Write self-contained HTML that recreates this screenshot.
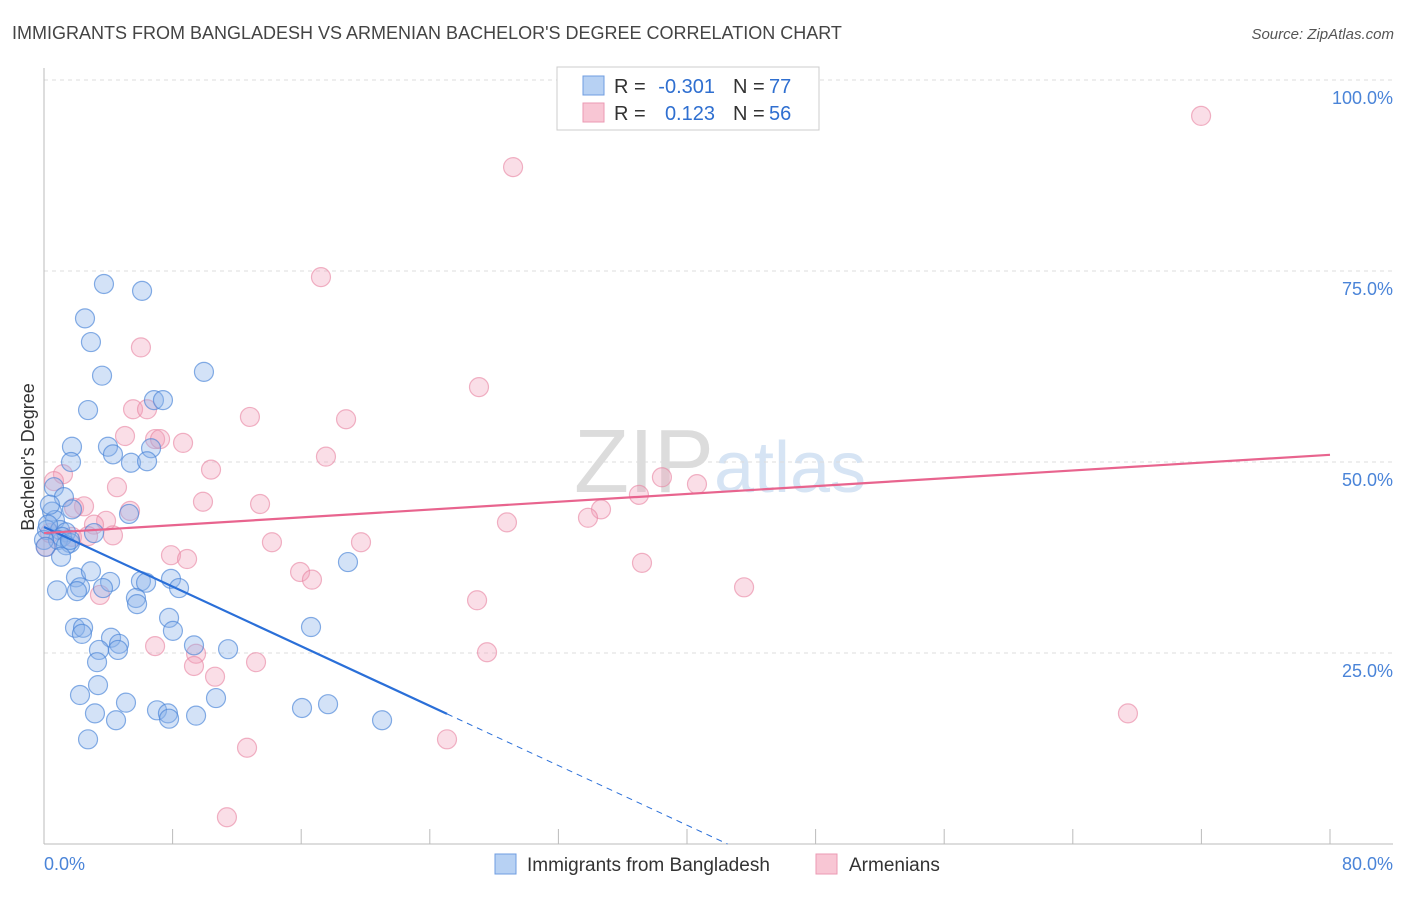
<!DOCTYPE html>
<html><head><meta charset="utf-8">
<style>
body{margin:0;background:#fff;font-family:"Liberation Sans",sans-serif;}
svg text{font-family:"Liberation Sans",sans-serif;}
</style></head>
<body>
<svg id="chart" width="1406" height="892" viewBox="0 0 1406 892" xmlns="http://www.w3.org/2000/svg">
<text x="12" y="39" font-size="18" fill="#444">IMMIGRANTS FROM BANGLADESH VS ARMENIAN BACHELOR'S DEGREE CORRELATION CHART</text>
<text x="1394" y="39" font-size="15" fill="#555" text-anchor="end" font-style="italic">Source: ZipAtlas.com</text>
<text x="720" y="492" font-size="90" fill="#e4e4e4" text-anchor="middle" font-family="Liberation Serif"><tspan fill="#dcdcdc">ZIP</tspan><tspan fill="#d6e4f4" font-family="Liberation Sans" font-size="72">atlas</tspan></text>
<text transform="translate(34,457) rotate(-90)" font-size="18" fill="#333" text-anchor="middle">Bachelor's Degree</text>
<g id="grid"></g><g id="axes"></g><g id="pts"></g><g id="trend"></g>
<g>
<rect x="557" y="67" width="262" height="63" fill="#fff" stroke="#ccc"/>
<rect x="583" y="76" width="21" height="19" fill="#b7d1f3" stroke="#6f9de0"/>
<rect x="583" y="103" width="21" height="19" fill="#f8c6d4" stroke="#eb9ab3"/>
<text x="614" y="93" font-size="20" fill="#333">R =</text>
<text x="715" y="93" font-size="20" fill="#2f6fd0" text-anchor="end">-0.301</text>
<text x="733" y="93" font-size="20" fill="#333">N =</text>
<text x="769" y="93" font-size="20" fill="#2f6fd0">77</text>
<text x="614" y="120" font-size="20" fill="#333">R =</text>
<text x="715" y="120" font-size="20" fill="#2f6fd0" text-anchor="end">0.123</text>
<text x="733" y="120" font-size="20" fill="#333">N =</text>
<text x="769" y="120" font-size="20" fill="#2f6fd0">56</text>
</g>
<g>
<rect x="495" y="854" width="21" height="20" fill="#b7d1f3" stroke="#6f9de0"/>
<text x="527" y="871" font-size="19" fill="#333">Immigrants from Bangladesh</text>
<rect x="816" y="854" width="21" height="20" fill="#f8c6d4" stroke="#eb9ab3"/>
<text x="849" y="871" font-size="19" fill="#333">Armenians</text>
</g>
</svg>
<script>
const yTicks=[25,50,75,100];
const yTickLabels=["25.0%","50.0%","75.0%","100.0%"];
const xTickLabels=["0.0%","80.0%"];
const blueX=[3.73,6.10,2.55,2.92,3.61,9.95,2.74,6.84,7.40,1.74,3.98,4.29,6.66,1.68,5.41,6.41,0.62,1.24,1.74,5.29,0.50,0.68,0.19,1.00,1.37,1.12,0.87,1.62,1.37,3.11,1.06,0.81,1.99,2.92,2.24,2.05,4.11,3.67,6.03,6.35,7.90,8.40,5.72,5.79,7.78,8.02,18.91,16.61,1.93,2.43,2.36,4.17,4.67,4.60,3.42,3.30,9.33,11.45,2.24,3.36,5.10,3.17,4.48,7.03,7.71,7.78,9.46,10.70,16.05,17.67,21.03,2.74,0.00,0.25,0.10,0.37,1.62];
const blueY=[73.3,72.4,68.8,65.7,61.3,61.8,56.8,58.1,58.1,52.0,52.0,51.0,51.8,50.0,49.9,50.1,46.7,45.4,43.8,43.2,43.5,42.4,41.1,41.1,40.8,40.2,39.8,39.4,39.1,40.7,37.6,33.2,34.9,35.7,33.6,33.1,34.3,33.5,34.4,34.2,34.7,33.5,32.2,31.4,29.6,27.9,36.9,28.4,28.3,28.3,27.5,27.0,26.2,25.4,25.4,23.8,26.0,25.5,19.5,20.8,18.5,17.1,16.2,17.5,17.1,16.4,16.8,19.1,17.8,18.3,16.2,13.7,39.8,41.8,38.9,44.4,39.8];
const pinkX=[71.98,29.18,17.23,6.03,27.06,5.54,6.41,12.81,18.79,5.04,6.91,7.22,8.65,17.54,10.39,1.18,0.62,4.54,38.44,40.62,37.01,34.65,9.89,13.44,2.49,5.35,1.87,3.86,3.11,28.80,33.84,4.29,1.74,2.74,0.12,0.37,14.18,19.72,7.90,8.90,37.20,15.93,16.67,26.94,43.55,3.48,6.91,9.46,9.33,27.56,13.19,10.64,67.43,25.07,12.63,11.38];
const pinkY=[95.3,88.6,74.2,65.0,59.8,56.9,56.9,55.9,55.6,53.4,53.0,53.0,52.5,50.7,49.0,48.4,47.5,46.7,48.0,47.1,45.7,43.8,44.8,44.5,44.2,43.6,44.0,42.3,41.8,42.1,42.7,40.4,40.2,40.3,38.9,40.7,39.5,39.5,37.8,37.3,36.8,35.6,34.6,31.9,33.6,32.6,25.9,24.9,23.3,25.1,23.8,21.9,17.1,13.7,12.6,3.5];
const blueTrend=[41.5,-0.976];
const pinkTrend=[40.7,0.128];
const blueSolidEnd=25.07;

const NS="http://www.w3.org/2000/svg";
const X0=44,X1=1330,Y0=844,Y100=80;
const sx=v=>X0+(X1-X0)*v/80;
const sy=v=>Y0-(Y0-Y100)*v/100;
function mk(tag,attrs,parent){const e=document.createElementNS(NS,tag);for(const k in attrs)e.setAttribute(k,attrs[k]);parent.appendChild(e);return e;}
const grid=document.getElementById('grid'),axes=document.getElementById('axes'),pts=document.getElementById('pts'),trend=document.getElementById('trend');
yTicks.forEach((t,i)=>{
  const l=mk('line',{x1:X0,x2:1393,y1:sy(t),y2:sy(t),stroke:'#ddd','stroke-dasharray':'4,4'},grid);
  
  
  const tx=mk('text',{x:1393,y:sy(t)+24,'font-size':18,fill:'#4a84d8','text-anchor':'end'},axes);
  tx.textContent=yTickLabels[i];
  
  
});
const ax=mk('line',{x1:X0,x2:X0,y1:68,y2:Y0,stroke:'#bbb'},axes);


const bx=mk('line',{x1:X0,x2:1393,y1:Y0,y2:Y0,stroke:'#bbb'},axes);


for(let i=0;i<=10;i++){
  const t=mk('line',{x1:sx(i*8),x2:sx(i*8),y1:829,y2:Y0,stroke:'#bbb'},axes);
  
  
}
const xl0=mk('text',{x:44,y:870,'font-size':18,fill:'#4a84d8'},axes);xl0.textContent=xTickLabels[0];


const xl1=mk('text',{x:1393,y:870,'font-size':18,fill:'#4a84d8','text-anchor':'end'},axes);xl1.textContent=xTickLabels[1];


pinkX.forEach((v,i)=>{
  const c=mk('circle',{cx:sx(v),cy:sy(pinkY[i]),r:9.5,fill:'rgba(242,160,185,0.35)',stroke:'rgba(232,130,160,0.6)','stroke-width':1.2},pts);
  
  
});
blueX.forEach((v,i)=>{
  const c=mk('circle',{cx:sx(v),cy:sy(blueY[i]),r:9.5,fill:'rgba(140,180,235,0.38)',stroke:'rgba(70,130,215,0.65)','stroke-width':1.2},pts);
  
  
});
const bz=-blueTrend[0]/blueTrend[1];
const b1=mk('line',{x1:sx(0),y1:sy(blueTrend[0]),x2:sx(blueSolidEnd),y2:sy(blueTrend[0]+blueTrend[1]*blueSolidEnd),stroke:'#2a6fd8','stroke-width':2.2},trend);


const b2=mk('line',{x1:sx(blueSolidEnd),y1:sy(blueTrend[0]+blueTrend[1]*blueSolidEnd),x2:sx(bz),y2:sy(0),stroke:'#2a6fd8','stroke-width':1,'stroke-dasharray':'6,5'},trend);


const p1=mk('line',{x1:sx(0),y1:sy(pinkTrend[0]),x2:sx(80),y2:sy(pinkTrend[0]+pinkTrend[1]*80),stroke:'#e8648e','stroke-width':2.2},trend);


</script>
</body></html>
